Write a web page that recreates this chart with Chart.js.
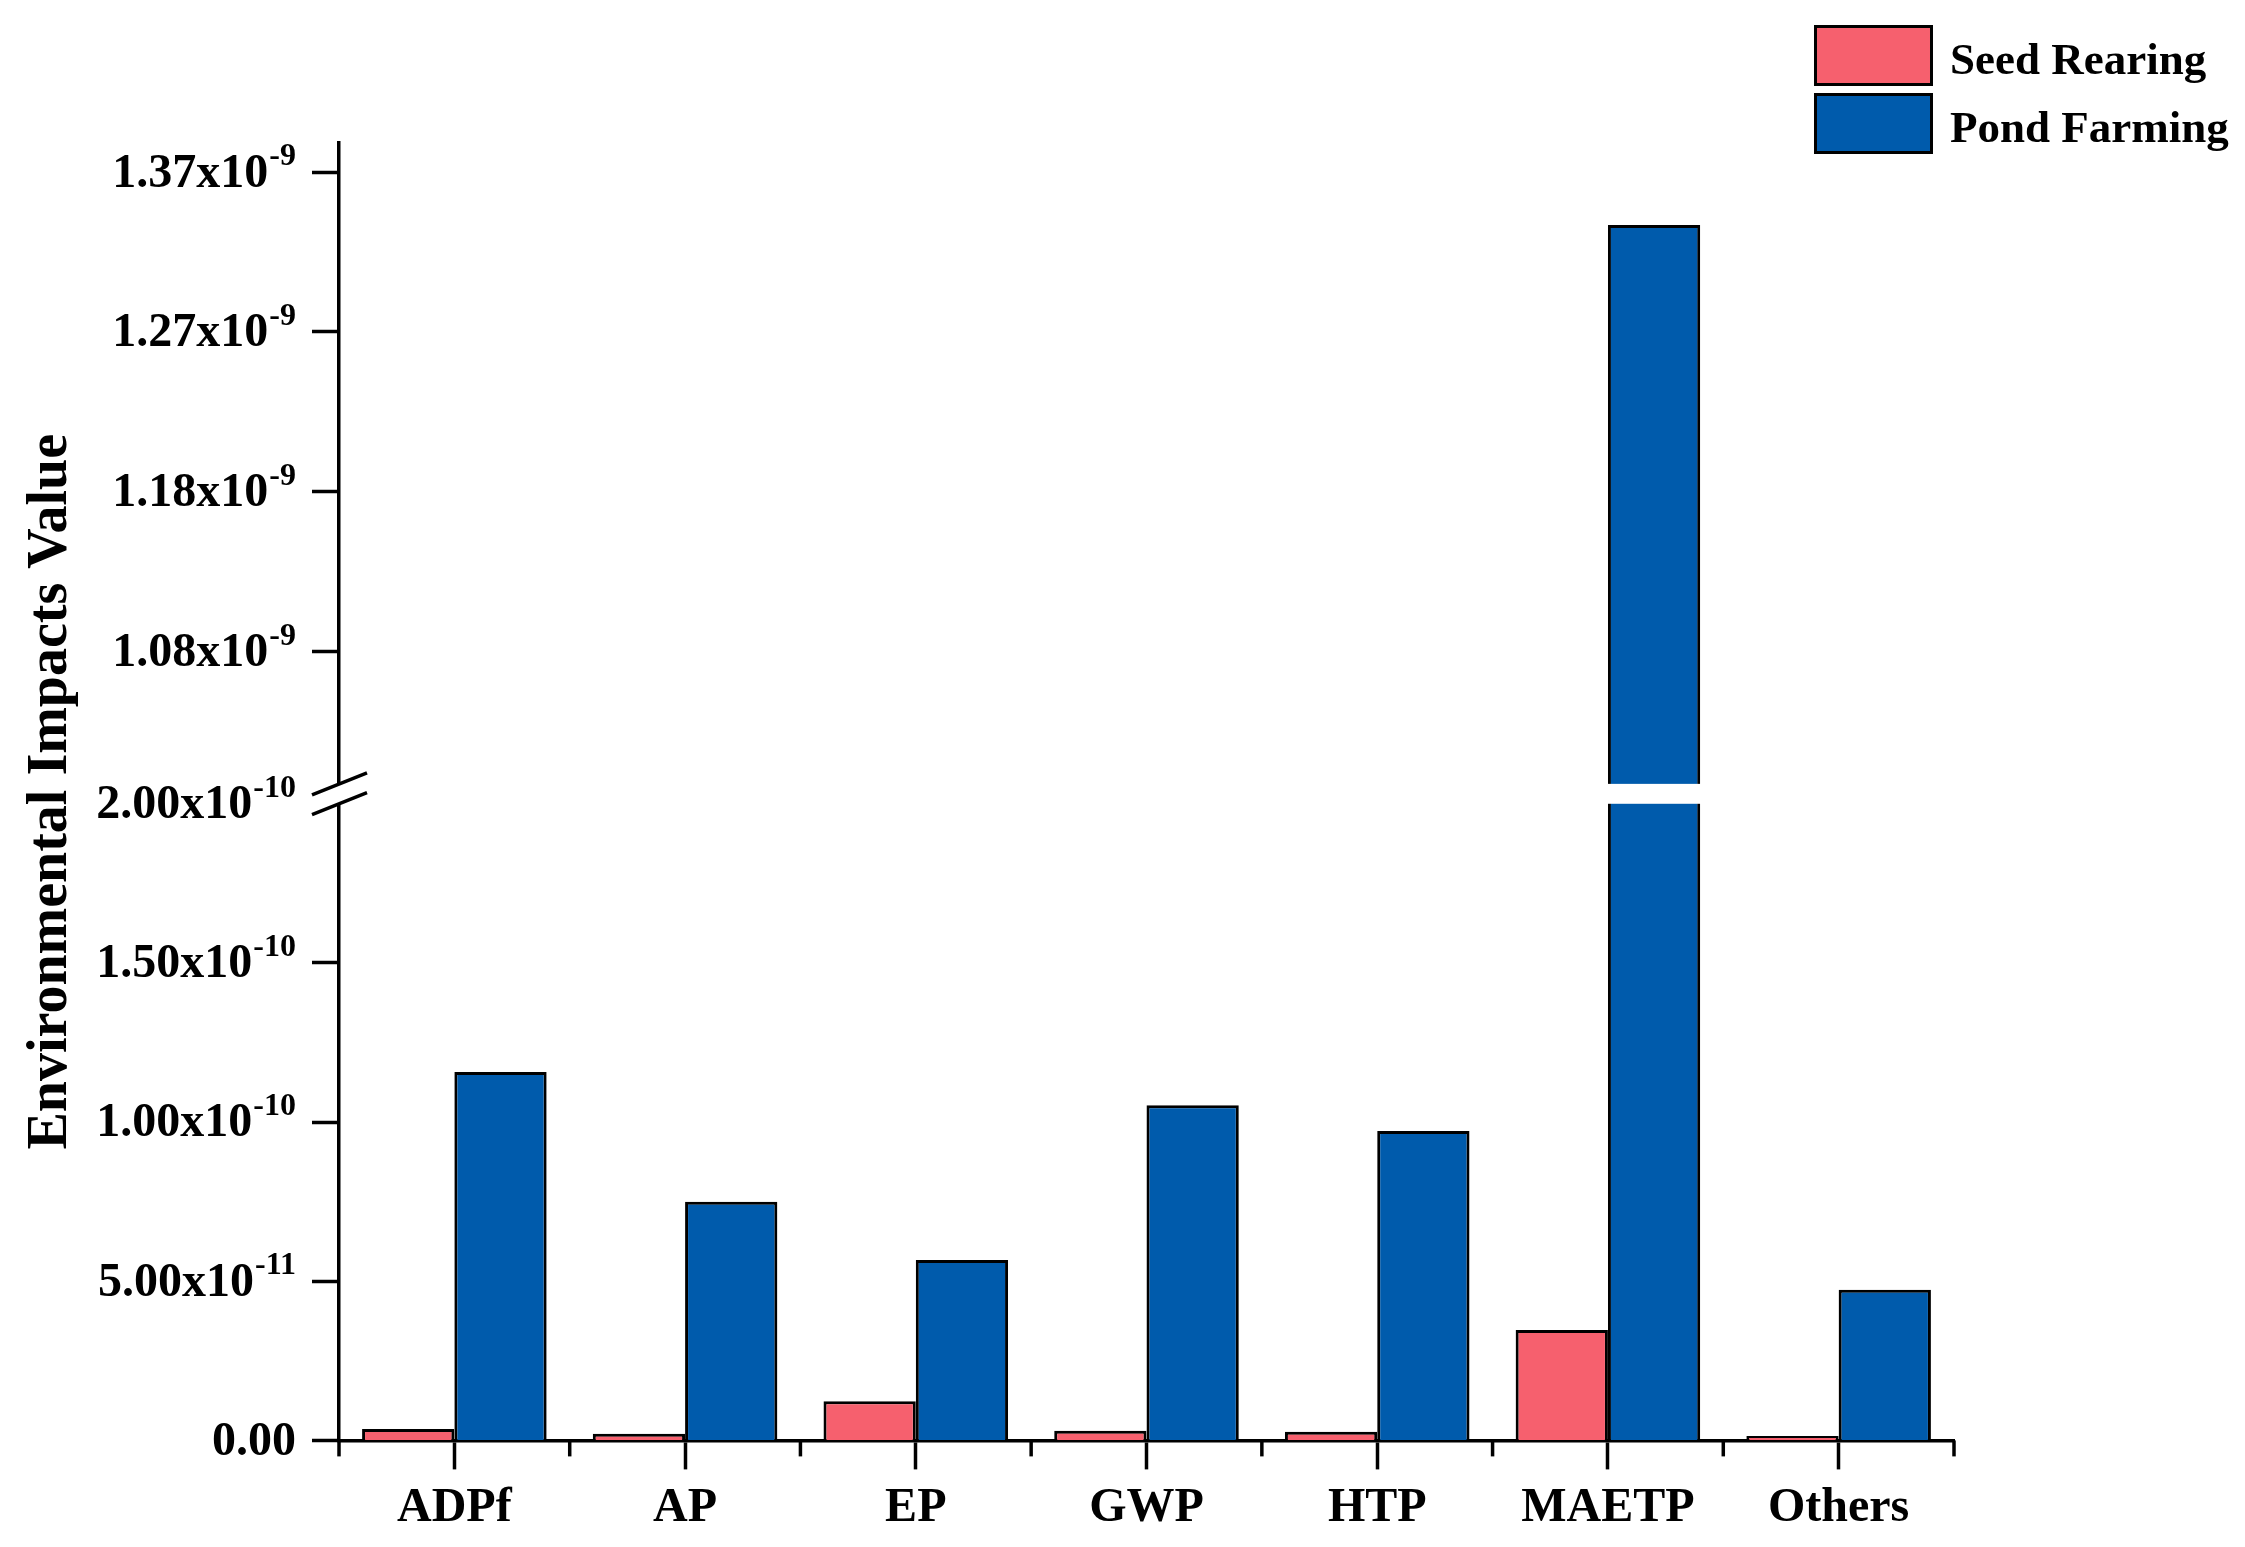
<!DOCTYPE html>
<html>
<head>
<meta charset="utf-8">
<script src="https://cdn.jsdelivr.net/npm/chart.js@4.4.1/dist/chart.umd.min.js"></script>
<style>
  body { margin: 0; background: #fff; }
  #wrap { position: relative; width: 2245px; height: 1547px; }
  .lg-box { position: absolute; left: 1814px; width: 113px; height: 55px; border: 3px solid #000; }
  .lg-txt { position: absolute; left: 1950px; font: bold 45px 'Liberation Serif'; color: #000; line-height: 45px; white-space: nowrap; }
</style>
</head>
<body>
<div id="wrap">
  <canvas id="impacts" width="2245" height="1547"></canvas>
  <div id="legend"></div>
</div>
<script>
// categories and series
var categories = ['ADPf', 'AP', 'EP', 'GWP', 'HTP', 'MAETP', 'Others'];
var seedRearing = [3.6e-12, 2.1e-12, 1.23e-11, 3.0e-12, 2.7e-12, 3.47e-11, 1.4e-12];
var pondFarming = [1.157e-10, 7.5e-11, 5.67e-11, 1.053e-10, 9.72e-11, 1.338e-9, 4.73e-11];
var seriesNames = ['Seed Rearing', 'Pond Farming'];
var seriesColors = ['#F6606E', '#005BAC'];

// tick labels, lower and upper part of the broken axis
var lowTicks = [0, 5e-11, 1e-10, 1.5e-10, 2e-10];
var lowTickLabels = ['0.00', '5.00', '1.00', '1.50', '2.00'];
var lowTickExps = ['', '-11', '-10', '-10', '-10'];
var highTicks = [1.08e-9, 1.1767e-9, 1.2733e-9, 1.37e-9];
var highTickLabels = ['1.08', '1.18', '1.27', '1.37'];
var highTickExps = ['-9', '-9', '-9', '-9'];

var lowMax = 2.0e-10;     // top of lower part
var breakMin = 1.0e-9;    // bottom of upper part
var highMin = 0.988e-9;   // upper axis runs through the gap
var highMax = 1.3876e-9;

var FONT = "'Liberation Serif'";

function lowPart(arr) { return arr.map(function (v) { return Math.min(v, lowMax); }); }
function highPart(arr) { return arr.map(function (v) { return v > breakMin ? v : null; }); }

// bars cut by the break get no border on the cut side
function lowBorder(c) { return c.raw >= lowMax ? { left: 3, right: 3, top: 0, bottom: 0 } : 3; }

function drawTickLabels(ctx, scale, values, labels, exps) {
  ctx.save();
  ctx.fillStyle = '#000';
  ctx.textBaseline = 'middle';
  ctx.textAlign = 'right';
  values.forEach(function (v, i) {
    var y = scale.getPixelForValue(v);
    var xr = 296;
    if (exps[i]) {
      ctx.font = 'bold 32px ' + FONT;
      ctx.fillText(exps[i], xr, y - 15);
      xr -= ctx.measureText(exps[i]).width + 1;
      ctx.font = 'bold 48px ' + FONT;
      ctx.fillText(labels[i] + 'x10', xr, y + 2);
    } else {
      ctx.font = 'bold 48px ' + FONT;
      ctx.fillText(labels[i], xr, y + 2);
    }
  });
  ctx.restore();
}

var brokenAxis = {
  id: 'brokenAxis',
  afterDatasetsDraw: function (chart) {
    var ctx = chart.ctx, a = chart.chartArea;
    var yl = chart.scales.yLow, yh = chart.scales.yHigh;
    var top = yh.getPixelForValue(breakMin), bot = yl.getPixelForValue(lowMax);
    var x0 = a.left;
    ctx.save();
    ctx.fillStyle = '#fff';
    ctx.fillRect(x0 - 4, top, a.right - x0 + 4, bot - top);
    ctx.strokeStyle = '#000';
    ctx.lineWidth = 3.5;
    [top, bot].forEach(function (y) {
      ctx.beginPath();
      ctx.moveTo(x0 - 27, y + 11);
      ctx.lineTo(x0 + 28, y - 11);
      ctx.stroke();
    });
    // short ticks at category boundaries
    var xs = chart.scales.x;
    var w = xs.getPixelForValue(1) - xs.getPixelForValue(0);
    for (var i = 0; i <= categories.length; i++) {
      var px = xs.getPixelForValue(0) - w / 2 + i * w;
      ctx.beginPath();
      ctx.moveTo(px, a.bottom);
      ctx.lineTo(px, a.bottom + 16);
      ctx.stroke();
    }
    ctx.restore();
  },
  afterDraw: function (chart) {
    var ctx = chart.ctx;
    drawTickLabels(ctx, chart.scales.yLow, lowTicks, lowTickLabels, lowTickExps);
    drawTickLabels(ctx, chart.scales.yHigh, highTicks, highTickLabels, highTickExps);
    ctx.save();
    ctx.translate(52, (chart.chartArea.top + chart.chartArea.bottom) / 2);
    ctx.rotate(-Math.PI / 2);
    ctx.font = 'bold 56px ' + FONT;
    ctx.fillStyle = '#000';
    ctx.textAlign = 'center';
    ctx.textBaseline = 'middle';
    ctx.fillText('Environmental Impacts Value', 0, 0);
    ctx.restore();
  }
};

function yAxis(min, max, weight, ticks) {
  return {
    type: 'linear',
    position: 'left',
    stack: 'y',
    stackWeight: weight,
    stacked: false,
    min: min,
    max: max,
    afterBuildTicks: function (s) { s.ticks = ticks.map(function (v) { return { value: v }; }); },
    afterFit: function (s) { s.width = 339; },
    grid: {
      drawOnChartArea: false,
      tickLength: 27,
      tickWidth: 3.5,
      tickColor: function (c) { return c.tick && c.tick.value === lowMax ? 'rgba(0,0,0,0)' : '#000'; }
    },
    border: { color: '#000', width: 3.5 },
    ticks: { display: false }
  };
}

var context = document.getElementById('impacts').getContext('2d');
var myChart = new Chart(context, {
  type: 'bar',
  data: {
    labels: categories,
    datasets: [
      { label: seriesNames[0], data: lowPart(seedRearing), yAxisID: 'yLow', stack: 'seed',
        backgroundColor: seriesColors[0], borderColor: '#000', borderWidth: lowBorder },
      { label: seriesNames[1], data: lowPart(pondFarming), yAxisID: 'yLow', stack: 'pond',
        backgroundColor: seriesColors[1], borderColor: '#000', borderWidth: lowBorder },
      { label: seriesNames[0], data: highPart(seedRearing), yAxisID: 'yHigh', stack: 'seed',
        backgroundColor: seriesColors[0], borderColor: '#000', borderWidth: 3 },
      { label: seriesNames[1], data: highPart(pondFarming), yAxisID: 'yHigh', stack: 'pond',
        backgroundColor: seriesColors[1], borderColor: '#000', borderWidth: 3 }
    ]
  },
  options: {
    responsive: false,
    animation: false,
    datasets: { bar: { categoryPercentage: 0.8, barPercentage: 1.0 } },
    layout: { padding: { top: 143, right: 291, bottom: 0, left: 0 } },
    plugins: { legend: { display: false }, tooltip: { enabled: false } },
    scales: {
      x: {
        type: 'category',
        offset: true,
        grid: { offset: false, drawOnChartArea: false, tickLength: 29, tickWidth: 3.5, tickColor: '#000' },
        border: { color: '#000', width: 3.5 },
        ticks: { color: '#000', padding: 10, maxRotation: 0, font: { family: FONT, size: 48, weight: 'bold' } }
      },
      yLow: yAxis(0, lowMax, 636, lowTicks),
      yHigh: yAxis(highMin, highMax, 660, highTicks)
    }
  },
  plugins: [brokenAxis]
});

// legend
var lg = document.getElementById('legend');
var boxTops = [25, 93];
seriesNames.forEach(function (name, i) {
  var b = document.createElement('div');
  b.className = 'lg-box';
  b.style.top = boxTops[i] + 'px';
  b.style.background = seriesColors[i];
  lg.appendChild(b);
  var t = document.createElement('div');
  t.className = 'lg-txt';
  t.style.top = (boxTops[i] + 12) + 'px';
  t.textContent = name;
  lg.appendChild(t);
});
</script>
</body>
</html>
